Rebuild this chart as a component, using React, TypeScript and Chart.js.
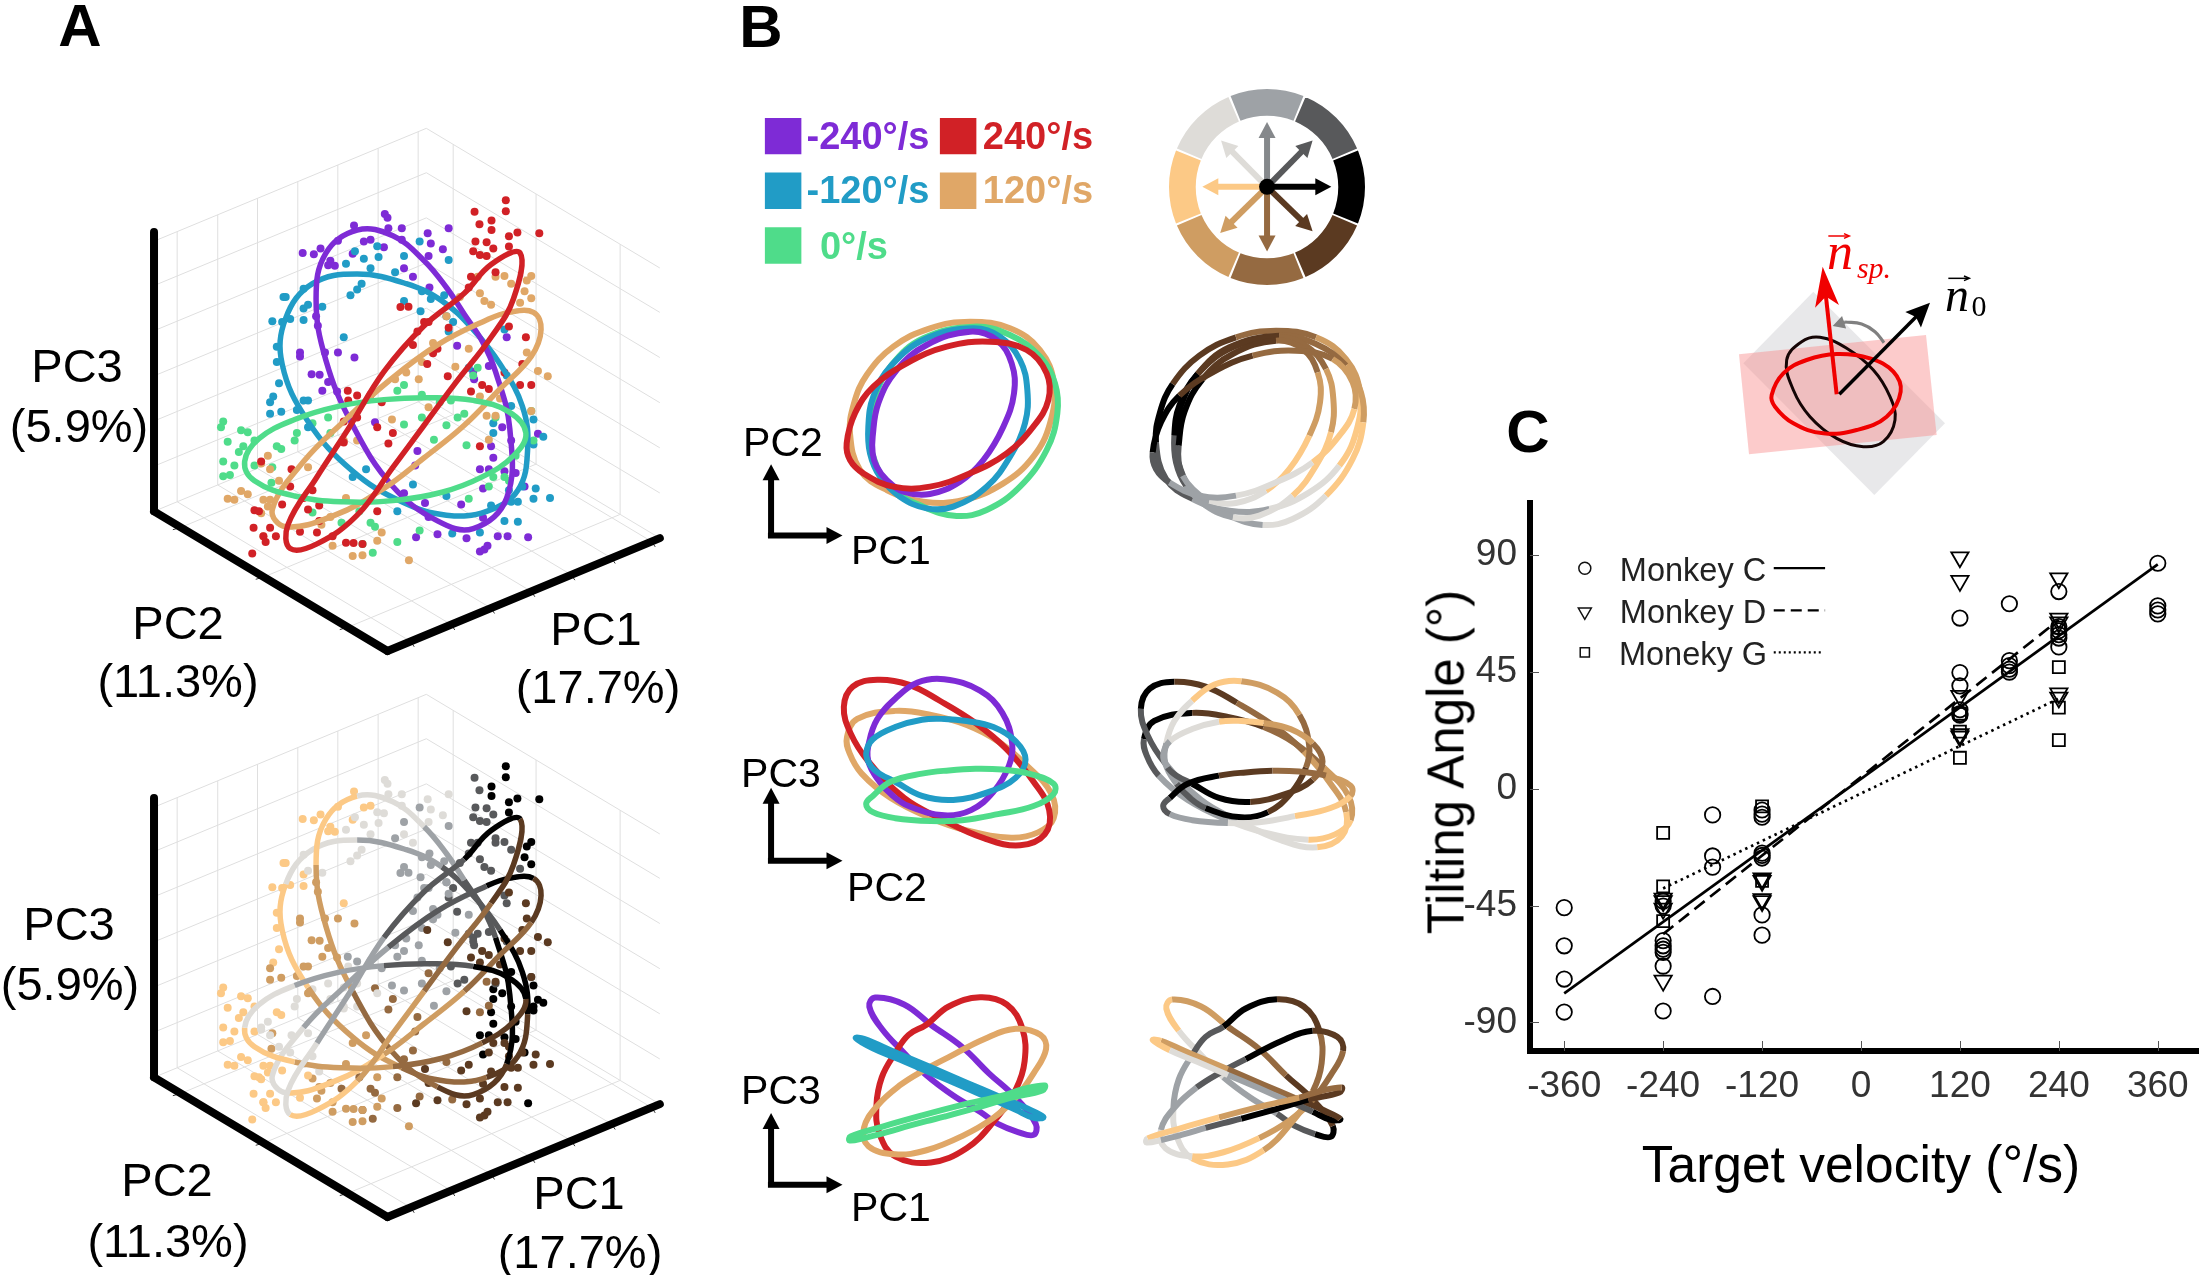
import React, { useEffect, useRef } from "react";
import { Chart, registerables } from "chart.js";
Chart.register(...registerables);

type P = [number, number];

const FONT = '"Liberation Sans", Arial, sans-serif';
const PURPLE = "#7e2bd6", RED = "#d12126", BLUE = "#219cc6", ORANGE = "#e0a767", GREEN = "#4fdc8a";
// direction colours, clockwise from "right"
const SECTOR = ["#000000", "#5b3a21", "#956a41", "#cf9d62", "#fcc986", "#dedcd8", "#9ea2a6", "#58595b"];
const WHEEL_VALUES = [1, 1, 1, 1, 1, 1, 1, 1];

// ---------- Panel A: trajectories (reading units of the panel) ----------
const A_RED: P[] = [[1040,505],[1100,430],[1165,400],[1150,520],[1100,620],[1020,740],[950,850],[880,960],[800,1085],[710,1160],[650,1172],[645,1110],[710,985],[780,860],[860,710],[950,590]];
const A_ORANGE: P[] = [[1090,575],[1140,555],[1195,555],[1212,600],[1190,670],[1120,755],[1040,850],[950,935],[860,1015],[750,1085],[640,1115],[610,1070],[680,945],[770,840],[870,735],[980,640]];
const A_GREEN: P[] = [[1060,785],[1140,815],[1178,870],[1150,930],[1080,985],[990,1025],[880,1047],[770,1050],[660,1035],[570,995],[548,945],[580,885],[660,835],[760,800],[860,783],[960,778]];
const A_BLUE: P[] = [[1120,690],[1170,800],[1182,910],[1160,1020],[1090,1075],[1000,1085],[900,1050],[790,970],[690,840],[632,690],[640,570],[700,480],[800,455],[910,480],[990,525],[1060,600]];
const A_PURPLE: P[] = [[1110,710],[1142,860],[1135,1040],[1060,1120],[980,1100],[880,1010],[790,850],[730,680],[708,520],[730,400],[800,340],[880,355],[950,420],[1000,490],[1040,560],[1080,630]];

const DOTS_RED: P[] = [[1133,262],[1133,291],[1063,292],[1101,315],[1101,340],[1074,325],[1208,348],[1159,346],[1140,356],[1065,370],[1090,372],[1140,383],[1105,388],[1060,395],[1075,405],[1090,408],[1110,450],[1055,462],[1050,490],[897,541],[915,540],[960,580],[950,580],[935,605],[1005,595],[1140,592],[1178,620],[925,640],[980,650],[970,662],[957,690],[1003,722],[1170,690],[1190,745],[1165,745],[1130,712],[1080,745],[1055,762],[1095,755],[779,760],[800,772],[855,790],[780,785],[830,770],[800,830],[770,840],[845,855],[880,870],[870,898],[585,945],[653,965],[770,895],[1075,905],[570,1072],[580,1075],[632,1057],[680,1040],[700,1020],[690,1070],[715,1060],[650,1010],[568,1118],[590,1140],[618,1140],[605,1118],[672,1128],[715,1100],[710,1130],[745,1140],[775,1157],[792,1158],[812,1160],[565,1185],[595,1155],[845,1075]];
const DOTS_ORANGE: P[] = [[1070,462],[1130,460],[1190,460],[1110,462],[1145,480],[1180,472],[1075,505],[1085,525],[1175,500],[1190,518],[1165,530],[1100,535],[1030,515],[1000,565],[970,635],[1020,697],[1050,650],[945,685],[910,712],[885,730],[938,730],[1205,708],[1227,722],[1180,660],[1190,813],[1090,825],[1075,775],[1120,780],[1110,825],[1095,888],[960,803],[878,835],[800,890],[770,890],[600,930],[585,950],[605,965],[690,960],[625,995],[540,1022],[555,1030],[510,1042],[525,1045],[590,1045],[605,1045],[600,1062],[585,1080],[590,1140],[775,1040],[790,1192],[812,1190],[845,1152],[855,1130],[916,1203],[745,1165],[740,1090],[720,1110]];
const DOTS_GREEN: P[] = [[500,840],[495,855],[540,863],[555,868],[510,893],[570,890],[545,905],[535,920],[630,912],[610,960],[570,955],[500,945],[525,955],[515,980],[500,983],[665,870],[660,890],[620,905],[735,830],[740,870],[700,845],[905,745],[890,760],[945,770],[1010,785],[1070,700],[1060,720],[985,790],[945,830],[905,848],[1025,830],[1040,820],[1000,850],[972,888],[1045,902],[1110,830],[1190,813],[1195,890],[1105,985],[1130,985],[1140,995],[1095,1010],[608,1000],[700,1078],[765,1105],[805,1075],[830,1105],[840,1115],[812,1160],[835,1183],[940,1125],[890,1155],[1050,1042],[1155,930]];
const DOTS_BLUE: P[] = [[610,578],[632,580],[635,515],[640,515],[650,572],[680,575],[680,545],[690,535],[722,540],[680,493],[800,495],[810,480],[785,510],[775,428],[815,415],[795,395],[845,382],[848,410],[905,408],[830,440],[885,450],[940,370],[1005,418],[905,525],[945,500],[942,552],[965,520],[995,510],[1000,565],[1015,580],[1005,605],[1130,600],[620,645],[620,685],[625,740],[770,620],[612,775],[605,790],[605,820],[630,815],[665,810],[690,785],[680,785],[690,855],[1050,700],[1135,720],[1105,845],[1105,870],[1145,800],[1195,835],[1217,880],[1195,900],[820,965],[790,985],[925,1005],[1000,1035],[1100,1060],[1145,1050],[1160,1050],[1195,1042],[1232,1040],[1200,1015],[1170,1010],[1130,1100],[1160,1102],[1075,1130],[1013,1133],[890,1075],[1140,1020]];
const DOTS_PURPLE: P[] = [[862,298],[868,308],[870,335],[900,335],[793,328],[1005,335],[958,348],[965,375],[992,390],[900,365],[815,370],[830,365],[860,385],[757,368],[718,388],[678,400],[703,403],[790,402],[740,420],[735,432],[750,433],[960,408],[925,462],[905,440],[962,490],[708,565],[712,590],[757,660],[794,673],[672,660],[672,670],[728,660],[698,717],[716,718],[735,737],[722,760],[755,762],[1024,642],[1135,620],[1060,710],[1062,730],[1095,695],[840,842],[935,917],[930,955],[1100,905],[1105,935],[1125,855],[1145,890],[1205,872],[1075,965],[1095,965],[1130,970],[1082,1015],[1155,975],[1175,1010],[905,1028],[952,1053],[1033,1057],[1082,1092],[1115,1140],[1137,1140],[1183,1143],[1045,1145],[980,1135],[932,1143],[1075,1180],[1085,1175],[1092,1165],[960,1090]];

// 3D box corners and grid fractions
const BOX_L: P = [345, 1075], BOX_C: P = [868, 1440], BOX_R: P = [1478, 1145], BOX_H = 730;
const WALL_LEFT_FRACS = [0.085, 0.234, 0.38, 0.528, 0.675, 0.823, 0.97];
const WALL_RIGHT_FRACS = [0.115, 0.47, 0.83];
const LEVELS = [118, 236, 354, 472, 590, 706];

// ---------- Panel B: projections ----------
const B1_ORANGE: P[] = [[60,370],[72,280],[110,195],[190,110],[300,55],[420,35],[540,55],[630,120],[672,220],[660,340],[610,440],[520,520],[400,570],[280,575],[170,540],[90,480]];
const B1_GREEN: P[] = [[118,350],[135,260],[185,165],[280,85],[430,50],[540,75],[630,140],[675,220],[682,310],[650,420],[570,530],[470,600],[380,618],[280,590],[180,530],[130,440]];
const B1_BLUE: P[] = [[115,350],[130,260],[185,165],[290,85],[430,55],[510,80],[570,150],[592,240],[585,340],[540,440],[470,530],[370,590],[290,595],[210,560],[150,500],[120,430]];
const B1_PURPLE: P[] = [[128,380],[145,280],[200,180],[290,105],[420,65],[500,90],[545,160],[552,250],[520,350],[460,450],[390,515],[300,552],[220,545],[170,510],[140,470],[128,430]];
const B1_RED: P[] = [[50,400],[75,310],[130,230],[230,160],[350,110],[480,95],[590,120],[650,190],[655,270],[610,350],[530,430],[420,490],[300,530],[190,530],[100,490],[60,450]];

const B2_RED: P[] = [[255,165],[275,115],[330,98],[400,110],[470,150],[550,205],[620,270],[680,350],[715,420],[705,480],[650,507],[570,490],[470,440],[390,390],[310,300],[270,230]];
const B2_ORANGE: P[] = [[262,240],[285,195],[370,175],[450,185],[530,210],[600,250],[665,310],[720,380],[725,440],[690,475],[630,488],[530,470],[450,440],[360,390],[295,330],[268,280]];
const B2_BLUE: P[] = [[370,350],[430,385],[500,395],[580,375],[640,340],[662,295],[640,250],[590,215],[530,200],[480,195],[430,197],[370,215],[320,245],[305,280],[315,310],[335,330]];
const B2_GREEN: P[] = [[320,385],[360,350],[430,330],[490,322],[550,318],[610,320],[670,330],[725,355],[725,380],[680,410],[600,430],[520,445],[450,447],[370,440],[320,425],[305,405]];
const B2_PURPLE: P[] = [[400,410],[480,433],[540,420],[590,375],[625,310],[632,255],[610,180],[560,125],[480,97],[420,105],[370,145],[330,195],[312,250],[310,300],[335,350],[365,385]];

const B3_RED: P[] = [[440,950],[490,905],[560,882],[620,900],[655,960],[660,1040],[640,1110],[590,1190],[530,1255],[450,1290],[370,1275],[335,1220],[328,1150],[340,1080],[370,1020],[400,975]];
const B3_ORANGE: P[] = [[490,1030],[570,985],[640,960],[695,975],[708,1010],[680,1070],[640,1130],[590,1180],[520,1225],[440,1260],[370,1270],[310,1250],[300,1205],[330,1150],[380,1100],[430,1065]];
const B3_PURPLE: P[] = [[645,1215],[680,1222],[685,1195],[640,1130],[580,1070],[520,1005],[450,950],[390,900],[325,883],[312,905],[340,960],[390,1020],[440,1075],[500,1125],[560,1165],[600,1195]];
const B3_BLUE: P[] = [[640,1160],[680,1180],[702,1178],[660,1154],[600,1126],[530,1093],[450,1055],[370,1018],[300,985],[282,983],[320,1008],[380,1036],[450,1069],[520,1102],[580,1131],[610,1145]];
const B3_GREEN: P[] = [[480,1177],[560,1153],[630,1130],[700,1112],[705,1100],[660,1108],[610,1125],[520,1148],[430,1174],[340,1202],[270,1226],[268,1236],[300,1230],[350,1216],[400,1200],[440,1188]];

const WHEEL_CENTER: P = [1203, 505];
const WHEEL_TIPS: P[] = [[1347,505],[1305,625],[1203,680],[1098,630],[1058,505],[1100,380],[1203,330],[1305,380]];
const WHEEL_ARROW_COLORS = ["#000000","#5b3a21","#956a41","#cf9d62","#fcc986","#dedcd8","#85888b","#58595b"];

const LEGEND_B: { p: P; c: string }[] = [
  { p: [119, 368], c: PURPLE }, { p: [511, 368], c: RED },
  { p: [119, 516], c: BLUE }, { p: [511, 516], c: ORANGE }, { p: [119, 664], c: GREEN },
];

// ---------- Schematic ----------
const SCH_GRAY: P[] = [[400,275],[795,670],[583,885],[190,490]];
const SCH_PINK: P[] = [[177,463],[738,405],[770,705],[207,763]];
const SCH_BLACK: P[] = [[320,480],[365,425],[420,412],[500,445],[580,510],[630,590],[645,660],[610,725],[550,740],[470,715],[390,650],[340,570]];
const SCH_RED: P[] = [[470,462],[570,475],[640,515],[662,575],[620,650],[530,690],[430,700],[340,670],[285,620],[275,585],[310,520],[380,480]];
const SCH_CURVE: P[] = [[612,428],[585,395],[545,372],[495,366]];

// ---------- Panel C ----------
const C_X_TICKS = [-360, -240, -120, 0, 120, 240, 360];
const C_Y_TICKS = [-90, -45, 0, 45, 90];
const MONKEY_C: P[] = [[-360,-45.8],[-360,-60.5],[-360,-73.3],[-360,-86],[-240,-43.3],[-240,-45.2],[-240,-58.5],[-240,-60.5],[-240,-61.8],[-240,-63],[-240,-68.3],[-240,-85.6],[-180,-10.1],[-180,-25.9],[-180,-30.2],[-180,-80],[-120,-8.2],[-120,-9.8],[-120,-11],[-120,-24.8],[-120,-25.7],[-120,-26.7],[-120,-48.6],[-120,-56.4],[120,65.7],[120,44.7],[120,39.6],[120,30.4],[120,28.9],[120,28.3],[180,71.2],[180,49.3],[180,47.4],[180,46],[180,44.9],[240,75.9],[240,62.4],[240,60.8],[240,59.3],[240,58],[240,54.6],[360,86.8],[360,70.4],[360,68.8],[360,67.3]];
const MONKEY_D: P[] = [[-240,-42.3],[-240,-43.3],[-240,-46.2],[-240,-73.9],[-120,-34.5],[-120,-35.5],[-120,-42.5],[-120,-43.3],[120,89.1],[120,80],[120,35.7],[120,21],[120,20.1],[240,81],[240,65.5],[240,64],[240,36.7],[240,35.1]];
const MONKEY_G: P[] = [[-240,-17],[-240,-37.6],[-240,-51],[-120,-6.8],[-120,-35.5],[120,28.9],[120,22],[120,11.9],[240,62],[240,46.8],[240,31.2],[240,18.7]];
const FIT_C: P[] = [[-360,-78.8],[360,86.4]];
const FIT_D: P[] = [[-240,-56],[240,65]];
const FIT_G: P[] = [[-240,-38.4],[240,34.7]];

// ---------- Text ----------
type Lab = { t: string; x: number; y: number; s: number; c?: string; b?: boolean; r?: number; i?: boolean; f?: string };
const SERIF = '"Liberation Serif", serif';
const LABELS: Lab[] = [
  { t: "A", x: 80, y: 26, s: 60, b: true }, { t: "B", x: 761, y: 27, s: 60, b: true }, { t: "C", x: 1528, y: 432, s: 60, b: true },
  { t: "PC3", x: 77, y: 365, s: 47 }, { t: "(5.9%)", x: 79, y: 425, s: 47 },
  { t: "PC2", x: 178, y: 622, s: 47 }, { t: "(11.3%)", x: 178, y: 680, s: 47 },
  { t: "PC1", x: 596, y: 628, s: 47 }, { t: "(17.7%)", x: 598, y: 686, s: 47 },
  { t: "PC3", x: 69, y: 923, s: 47 }, { t: "(5.9%)", x: 70, y: 983, s: 47 },
  { t: "PC2", x: 167, y: 1179, s: 47 }, { t: "(11.3%)", x: 168, y: 1240, s: 47 },
  { t: "PC1", x: 579, y: 1192, s: 47 }, { t: "(17.7%)", x: 580, y: 1251, s: 47 },
  { t: "PC2", x: 783, y: 442, s: 41 }, { t: "PC1", x: 891, y: 550, s: 41 },
  { t: "PC3", x: 781, y: 773, s: 41 }, { t: "PC2", x: 887, y: 887, s: 41 },
  { t: "PC3", x: 781, y: 1090, s: 41 }, { t: "PC1", x: 891, y: 1207, s: 41 },
  { t: "-240°/s", x: 868, y: 136, s: 38, c: PURPLE, b: true }, { t: "240°/s", x: 1038, y: 136, s: 38, c: RED, b: true },
  { t: "-120°/s", x: 868, y: 190, s: 38, c: BLUE, b: true }, { t: "120°/s", x: 1038, y: 190, s: 38, c: ORANGE, b: true },
  { t: "0°/s", x: 854, y: 246, s: 38, c: GREEN, b: true },
  { t: "Tilting Angle (°)", x: 1446, y: 762, s: 51, r: -90 },
  { t: "Target velocity (°/s)", x: 1861, y: 1165, s: 51.5 },
  { t: "Monkey C", x: 1693, y: 570, s: 32.5, c: "#222" }, { t: "Monkey D", x: 1693, y: 612, s: 32.5, c: "#222" }, { t: "Moneky G", x: 1693, y: 654, s: 32.5, c: "#222" },
  { t: "n", x: 1840, y: 252, s: 52, c: "#f00000", i: true, f: SERIF },
  { t: "sp.", x: 1874, y: 268, s: 30, c: "#f00000", i: true, f: SERIF },
  { t: "n", x: 1957, y: 295, s: 48, c: "#000", i: true, f: SERIF },
  { t: "0", x: 1979, y: 306, s: 30, c: "#000", f: SERIF },
];

// ---------- helpers ----------
const pts = (a: P[]) => a.map(([x, y]) => ({ x, y }));

function loopDs(a: P[], width: number, color: string | null) {
  const n = a.length;
  const data = pts([a[n - 1], ...a, a[0], a[1]]);
  return {
    data, showLine: true, tension: 0.4, pointRadius: 0, borderWidth: width,
    borderColor: color ?? "#000", fill: false,
    segment: {
      borderColor: (ctx: any) => {
        const i = ctx.p0DataIndex;
        if (i === 0 || i === n + 1) return "rgba(0,0,0,0)";
        if (color) return color;
        return SECTOR[Math.floor(((i - 1) % n) / 2)];
      },
    },
  };
}
const lineDs = (a: P[], color: string, width: number, extra: any = {}) => ({
  data: pts(a), showLine: true, tension: 0, pointRadius: 0, borderColor: color, borderWidth: width, fill: false, ...extra,
});
const polyDs = (a: P[], color: string) => ({
  data: pts([...a, a[0]]), showLine: true, tension: 0, pointRadius: 0, borderWidth: 0, borderColor: "rgba(0,0,0,0)",
  backgroundColor: color, fill: "shape",
});
const dotsDs = (a: P[], color: string | string[], r: number) => ({
  data: pts(a), showLine: false, pointRadius: r, pointStyle: "circle", pointBorderWidth: 0, pointBackgroundColor: color, pointHoverRadius: r,
});

function arrowDs(from: P, to: P, color: string, w: number, headLen: number, headW: number, kx: number, ky: number, notch = 0) {
  const dx = (to[0] - from[0]) * kx, dy = (to[1] - from[1]) * ky;
  const len = Math.hypot(dx, dy), ux = dx / len, uy = dy / len;
  const at = (along: number, side: number): P => [
    to[0] + (ux * along - uy * side) / kx,
    to[1] + (uy * along + ux * side) / ky,
  ];
  return [
    polyDs([to, at(-headLen - notch, headW / 2), at(-headLen, 0), at(-headLen - notch, -headW / 2)], color),
    lineDs([from, at(-headLen + 1, 0)], color, w),
  ];
}

// colour of a dot = direction sector of the nearest place on its loop, lagging by `lag` loop points
function nearestColors(dots: P[], loop: P[], lag: number) {
  const n = loop.length;
  return dots.map((d) => {
    let best = 0, bd = Infinity;
    loop.forEach((p, i) => {
      const dd = (p[0] - d[0]) ** 2 + (p[1] - d[1]) ** 2;
      if (dd < bd) { bd = dd; best = i; }
    });
    return SECTOR[Math.floor(((best - lag + n) % n) / 2)];
  });
}

function boxGrid() {
  const g: any[] = [];
  const [lx, ly] = BOX_L, [cx, cy] = BOX_C, [rx, ry] = BOX_R;
  const bx = lx + rx - cx, by = ly + ry - cy;
  const col = "#dfdfdf";
  const seg = (a: P, b: P) => g.push(lineDs([a, b], col, 1));
  const top = LEVELS[LEVELS.length - 1];
  for (const f of WALL_LEFT_FRACS) {
    const x = lx + (bx - lx) * f, y = ly + (by - ly) * f;
    seg([x, y], [x, y - top]);
    seg([x, y], [x + cx - lx, y + cy - ly]);
  }
  for (const f of WALL_RIGHT_FRACS) {
    const x = bx + (rx - bx) * f, y = by + (ry - by) * f;
    seg([x, y], [x, y - top]);
    seg([x, y], [x - (bx - lx), y - (by - ly)]);
  }
  for (const h of [0, ...LEVELS]) {
    seg([lx, ly - h], [bx, by - h]);
    seg([bx, by - h], [rx, ry - h]);
  }
  return g;
}
function boxAxes() {
  const g: any[] = [];
  const [lx, ly] = BOX_L, [cx, cy] = BOX_C, [rx, ry] = BOX_R;
  g.push(lineDs([[lx, ly - BOX_H], [lx, ly]], "#000", 8, { borderCapStyle: "round" }));
  g.push(lineDs([[lx, ly], [cx, cy]], "#000", 8, { borderCapStyle: "round" }));
  g.push(lineDs([[cx, cy], [rx, ry]], "#000", 8, { borderCapStyle: "round" }));
  for (const f of WALL_LEFT_FRACS) {
    const x = cx + (rx - cx) * f, y = cy + (ry - cy) * f;
    g.push(lineDs([[x, y], [x + 8, y + 14]], "#333", 1));
  }
  for (const f of WALL_RIGHT_FRACS) {
    const x = lx + (cx - lx) * f, y = ly + (cy - ly) * f;
    g.push(lineDs([[x, y], [x - 18, y + 6]], "#333", 1));
  }
  return g;
}
function panelA(colored: boolean) {
  const lc = (c: string) => (colored ? null : c);
  const dc = (d: P[], l: P[], c: string, lag: number) => (colored ? nearestColors(d, l, lag) : c);
  return [
    ...boxAxes(),
    loopDs(A_RED, 5.5, lc(RED)), loopDs(A_GREEN, 5.5, lc(GREEN)), loopDs(A_ORANGE, 5.5, lc(ORANGE)),
    loopDs(A_PURPLE, 5.5, lc(PURPLE)), loopDs(A_BLUE, 5.5, lc(BLUE)),
    dotsDs(DOTS_RED, dc(DOTS_RED, A_RED, RED, 2), 4), dotsDs(DOTS_ORANGE, dc(DOTS_ORANGE, A_ORANGE, ORANGE, 2), 4),
    dotsDs(DOTS_GREEN, dc(DOTS_GREEN, A_GREEN, GREEN, 2), 4), dotsDs(DOTS_BLUE, dc(DOTS_BLUE, A_BLUE, BLUE, 1), 4),
    dotsDs(DOTS_PURPLE, dc(DOTS_PURPLE, A_PURPLE, PURPLE, 1), 4),
    ...boxGrid(),
  ];
}
const groupB = (list: { a: P[]; c: string }[], colored: boolean) =>
  list.map((l) => loopDs(l.a, 6, colored ? null : l.c));

const B1 = [{ a: B1_RED, c: RED }, { a: B1_PURPLE, c: PURPLE }, { a: B1_BLUE, c: BLUE }, { a: B1_GREEN, c: GREEN }, { a: B1_ORANGE, c: ORANGE }];
const B2 = [{ a: B2_GREEN, c: GREEN }, { a: B2_BLUE, c: BLUE }, { a: B2_PURPLE, c: PURPLE }, { a: B2_RED, c: RED }, { a: B2_ORANGE, c: ORANGE }];
const B3 = [{ a: B3_GREEN, c: GREEN }, { a: B3_BLUE, c: BLUE }, { a: B3_ORANGE, c: ORANGE }, { a: B3_RED, c: RED }, { a: B3_PURPLE, c: PURPLE }];

type Rect = [number, number, number, number];

function ChartCanvas({ rect, config }: { rect: Rect; config: () => any }) {
  const ref = useRef<HTMLCanvasElement>(null);
  useEffect(() => {
    const chart = new Chart(ref.current!, config());
    return () => chart.destroy();
  }, []);
  return (
    <canvas ref={ref} width={rect[2]} height={rect[3]}
      style={{ position: "absolute", left: rect[0], top: rect[1], width: rect[2], height: rect[3] }} />
  );
}

function panelConfig(datasets: () => any[], ux = 1568, uy = 1568) {
  return () => ({
    type: "scatter",
    data: { datasets: datasets() },
    options: {
      responsive: false, animation: false, events: [], maintainAspectRatio: false,
      layout: { padding: 0, autoPadding: false },
      plugins: { legend: { display: false }, tooltip: { enabled: false } },
      scales: {
        x: { type: "linear", display: false, min: 0, max: ux },
        y: { type: "linear", display: false, min: 0, max: uy, reverse: true },
      },
    },
  });
}

function Panel({ rect, ds, ux, uy }: { rect: Rect; ds: () => any[]; ux?: number; uy?: number }) {
  return <ChartCanvas rect={rect} config={panelConfig(ds, ux, uy)} />;
}

const wheelConfig = () => ({
  type: "doughnut",
  data: { labels: SECTOR.map((_, i) => String(i * 45)), datasets: [{ data: WHEEL_VALUES, backgroundColor: SECTOR, borderWidth: 0, spacing: 5 }] },
  options: {
    responsive: false, animation: false, events: [], rotation: 67.5, cutout: "72%",
    layout: { padding: 0 }, plugins: { legend: { display: false }, tooltip: { enabled: false } },
  },
});

const B1_K: [number, number] = [700 / 1568, 580 / 1568];
const b1Left = () => {
  const [kx, ky] = B1_K;
  const out: any[] = [];
  out.push({ ...dotsDs([WHEEL_CENTER], "#000", 8) });
  WHEEL_TIPS.forEach((t, i) => out.push(...arrowDs(WHEEL_CENTER, t, WHEEL_ARROW_COLORS[i], 6, 16, 17, kx, ky)));
  LEGEND_B.forEach((l) => out.push({ data: pts([l.p]), showLine: false, pointStyle: "rect", pointRadius: 25.8, pointBackgroundColor: l.c, pointBorderWidth: 0 }));
  out.push(...arrowDs([92, 1448], [92, 1255], "#000", 6, 16, 17, kx, ky));
  out.push(...arrowDs([85, 1448], [252, 1448], "#000", 6, 16, 17, kx, ky));
  return out;
};
const b23Left = () => {
  const kx = 700 / 1568, ky = 635 / 1568;
  return [
    ...arrowDs([92, 545], [92, 365], "#000", 6, 16, 17, kx, ky),
    ...arrowDs([85, 545], [252, 545], "#000", 6, 16, 17, kx, ky),
    ...arrowDs([92, 1345], [92, 1168], "#000", 6, 16, 17, kx, ky),
    ...arrowDs([85, 1345], [252, 1345], "#000", 6, 16, 17, kx, ky),
    ...groupB(B2, false), ...groupB(B3, false),
  ];
};
const schematic = () => [
  ...arrowDs([478, 583], [750, 308], "#000", 3.5, 20, 22, 1 / 3, 1 / 3, 4),
  ...arrowDs([470, 583], [428, 200], "#f00000", 4, 30, 24, 1 / 3, 1 / 3, 10),
  lineDs([[445, 108], [505, 108]], "#f00000", 1.5), lineDs([[492, 101], [508, 108], [492, 115]], "#f00000", 1.5),
  lineDs([[805, 235], [865, 235]], "#000", 1.5), lineDs([[852, 228], [868, 235], [852, 242]], "#000", 1.5),
  ...arrowDs(SCH_CURVE[3], [458, 378], "#808080", 3.2, 12, 13, 1 / 3, 1 / 3),
  lineDs(SCH_CURVE, "#808080", 3.2, { tension: 0.4 }),
  loopDs(SCH_RED, 4, "#f00000"),
  loopDs(SCH_BLACK, 3, "#150505"),
  polyDs(SCH_PINK, "rgba(248,140,140,0.45)"),
  polyDs(SCH_GRAY, "rgba(190,190,195,0.35)"),
];
const cLegend = () => [
  { data: pts([[360, 174]]), showLine: false, pointStyle: "circle", pointRadius: 6, pointBackgroundColor: "transparent", pointBorderColor: "#111", pointBorderWidth: 1.5 },
  { data: pts([[360, 260]]), showLine: false, pointStyle: "triangle", pointRotation: 180, pointRadius: 7.5, pointBackgroundColor: "transparent", pointBorderColor: "#111", pointBorderWidth: 1.5 },
  { data: pts([[360, 340]]), showLine: false, pointStyle: "rect", pointRadius: 6.5, pointBackgroundColor: "transparent", pointBorderColor: "#111", pointBorderWidth: 1.5 },
  lineDs([[728, 174], [828, 174]], "#000", 2.2),
  lineDs([[728, 257], [828, 257]], "#000", 2.2, { borderDash: [11, 6] }),
  lineDs([[728, 340], [822, 340]], "#000", 2.2, { borderDash: [2, 3] }),
];

const innerTicks = {
  id: "innerTicks",
  afterDraw(chart: any) {
    const { ctx, chartArea: a, scales } = chart;
    ctx.save();
    ctx.strokeStyle = "#555";
    ctx.lineWidth = 1;
    C_X_TICKS.forEach((v) => {
      const x = Math.round(scales.x.getPixelForValue(v)) + 0.5;
      ctx.beginPath(); ctx.moveTo(x, a.bottom); ctx.lineTo(x, a.bottom - 10); ctx.stroke();
    });
    C_Y_TICKS.forEach((v) => {
      const y = Math.round(scales.y.getPixelForValue(v)) + 0.5;
      ctx.beginPath(); ctx.moveTo(a.left, y); ctx.lineTo(a.left + 9, y); ctx.stroke();
    });
    ctx.restore();
  },
};

const cConfig = () => {
  const mark = (a: P[], style: string, r: number, rot = 0) => ({
    data: pts(a), showLine: false, pointStyle: style, pointRadius: r, pointRotation: rot,
    pointBackgroundColor: "rgba(0,0,0,0)", pointBorderColor: "#000", pointBorderWidth: 1.8,
  });
  return {
    type: "scatter",
    data: {
      datasets: [
        { label: "Monkey C", ...mark(MONKEY_C, "circle", 7.7) },
        { label: "Monkey D", ...mark(MONKEY_D, "triangle", 10, 180) },
        { label: "Moneky G", ...mark(MONKEY_G, "rect", 8.5) },
        lineDs(FIT_C, "#000", 2.7),
        lineDs(FIT_D, "#000", 2.7, { borderDash: [13, 7] }),
        lineDs(FIT_G, "#000", 2.7, { borderDash: [2.5, 4] }),
      ],
    },
    options: {
      responsive: false, animation: false, events: [],
      layout: { padding: { top: 23, right: 7, left: 0, bottom: 0 }, autoPadding: false },
      plugins: { legend: { display: false }, tooltip: { enabled: false } },
      scales: {
        x: {
          type: "linear", min: -401.5, max: 408.8,
          afterBuildTicks: (s: any) => { s.ticks = C_X_TICKS.map((value) => ({ value })); },
          afterFit: (s: any) => { s.height = 224; s.paddingLeft = 0; s.paddingRight = 0; },
          grid: { display: false, drawTicks: false },
          border: { display: true, color: "#000", width: 6 },
          ticks: { autoSkip: false, maxRotation: 0, padding: 14, color: "#333", font: { family: FONT, size: 37 }, callback: (v: any) => String(v) },
        },
        y: {
          type: "linear", min: -101, max: 110,
          afterBuildTicks: (s: any) => { s.ticks = C_Y_TICKS.map((value) => ({ value })); },
          afterFit: (s: any) => { s.width = 130; s.paddingTop = 0; s.paddingBottom = 0; },
          grid: { display: false, drawTicks: false },
          border: { display: true, color: "#000", width: 6 },
          ticks: { autoSkip: false, padding: 13, color: "#333", font: { family: FONT, size: 37 }, callback: (v: any) => String(v) },
        },
      },
    },
    plugins: [innerTicks],
  };
};

export default function App() {
  useEffect(() => {
    document.body.style.margin = "0";
    document.body.style.background = "#fff";
  }, []);
  return (
    <div style={{ position: "absolute", left: 0, top: 0, width: 2205, height: 1275, overflow: "hidden", background: "#fff" }}>
      <Panel rect={[0, 100, 700, 600]} ds={() => panelA(false)} />
      <Panel rect={[0, 666, 700, 600]} ds={() => panelA(true)} />
      <ChartCanvas rect={[1169, 89, 196, 196]} config={wheelConfig} />
      <Panel rect={[730, 0, 700, 580]} ds={b1Left} />
      <Panel rect={[830, 310, 250, 250]} ds={() => groupB(B1, false)} ux={750} uy={750} />
      <Panel rect={[1136, 319, 250, 250]} ds={() => groupB(B1, true)} ux={750} uy={750} />
      <Panel rect={[730, 640, 700, 635]} ds={b23Left} />
      <Panel rect={[1027, 642, 700, 635]} ds={() => [...groupB(B2, true), ...groupB(B3, true)]} />
      <Panel rect={[1680, 200, 340, 310]} ds={schematic} ux={1020} uy={930} />
      <ChartCanvas rect={[1400, 480, 805, 795]} config={cConfig} />
      <Panel rect={[1400, 480, 805, 795]} ds={cLegend} />
      {LABELS.map((l, i) => (
        <div key={i} style={{
          position: "absolute", left: l.x, top: l.y, whiteSpace: "nowrap", lineHeight: 1,
          transform: `translate(-50%,-50%)${l.r ? ` rotate(${l.r}deg)` : ""}`,
          fontFamily: l.f ?? FONT, fontSize: l.s, fontWeight: l.b ? 700 : 400, fontStyle: l.i ? "italic" : "normal", color: l.c ?? "#000",
        }}>{l.t}</div>
      ))}
    </div>
  );
}
